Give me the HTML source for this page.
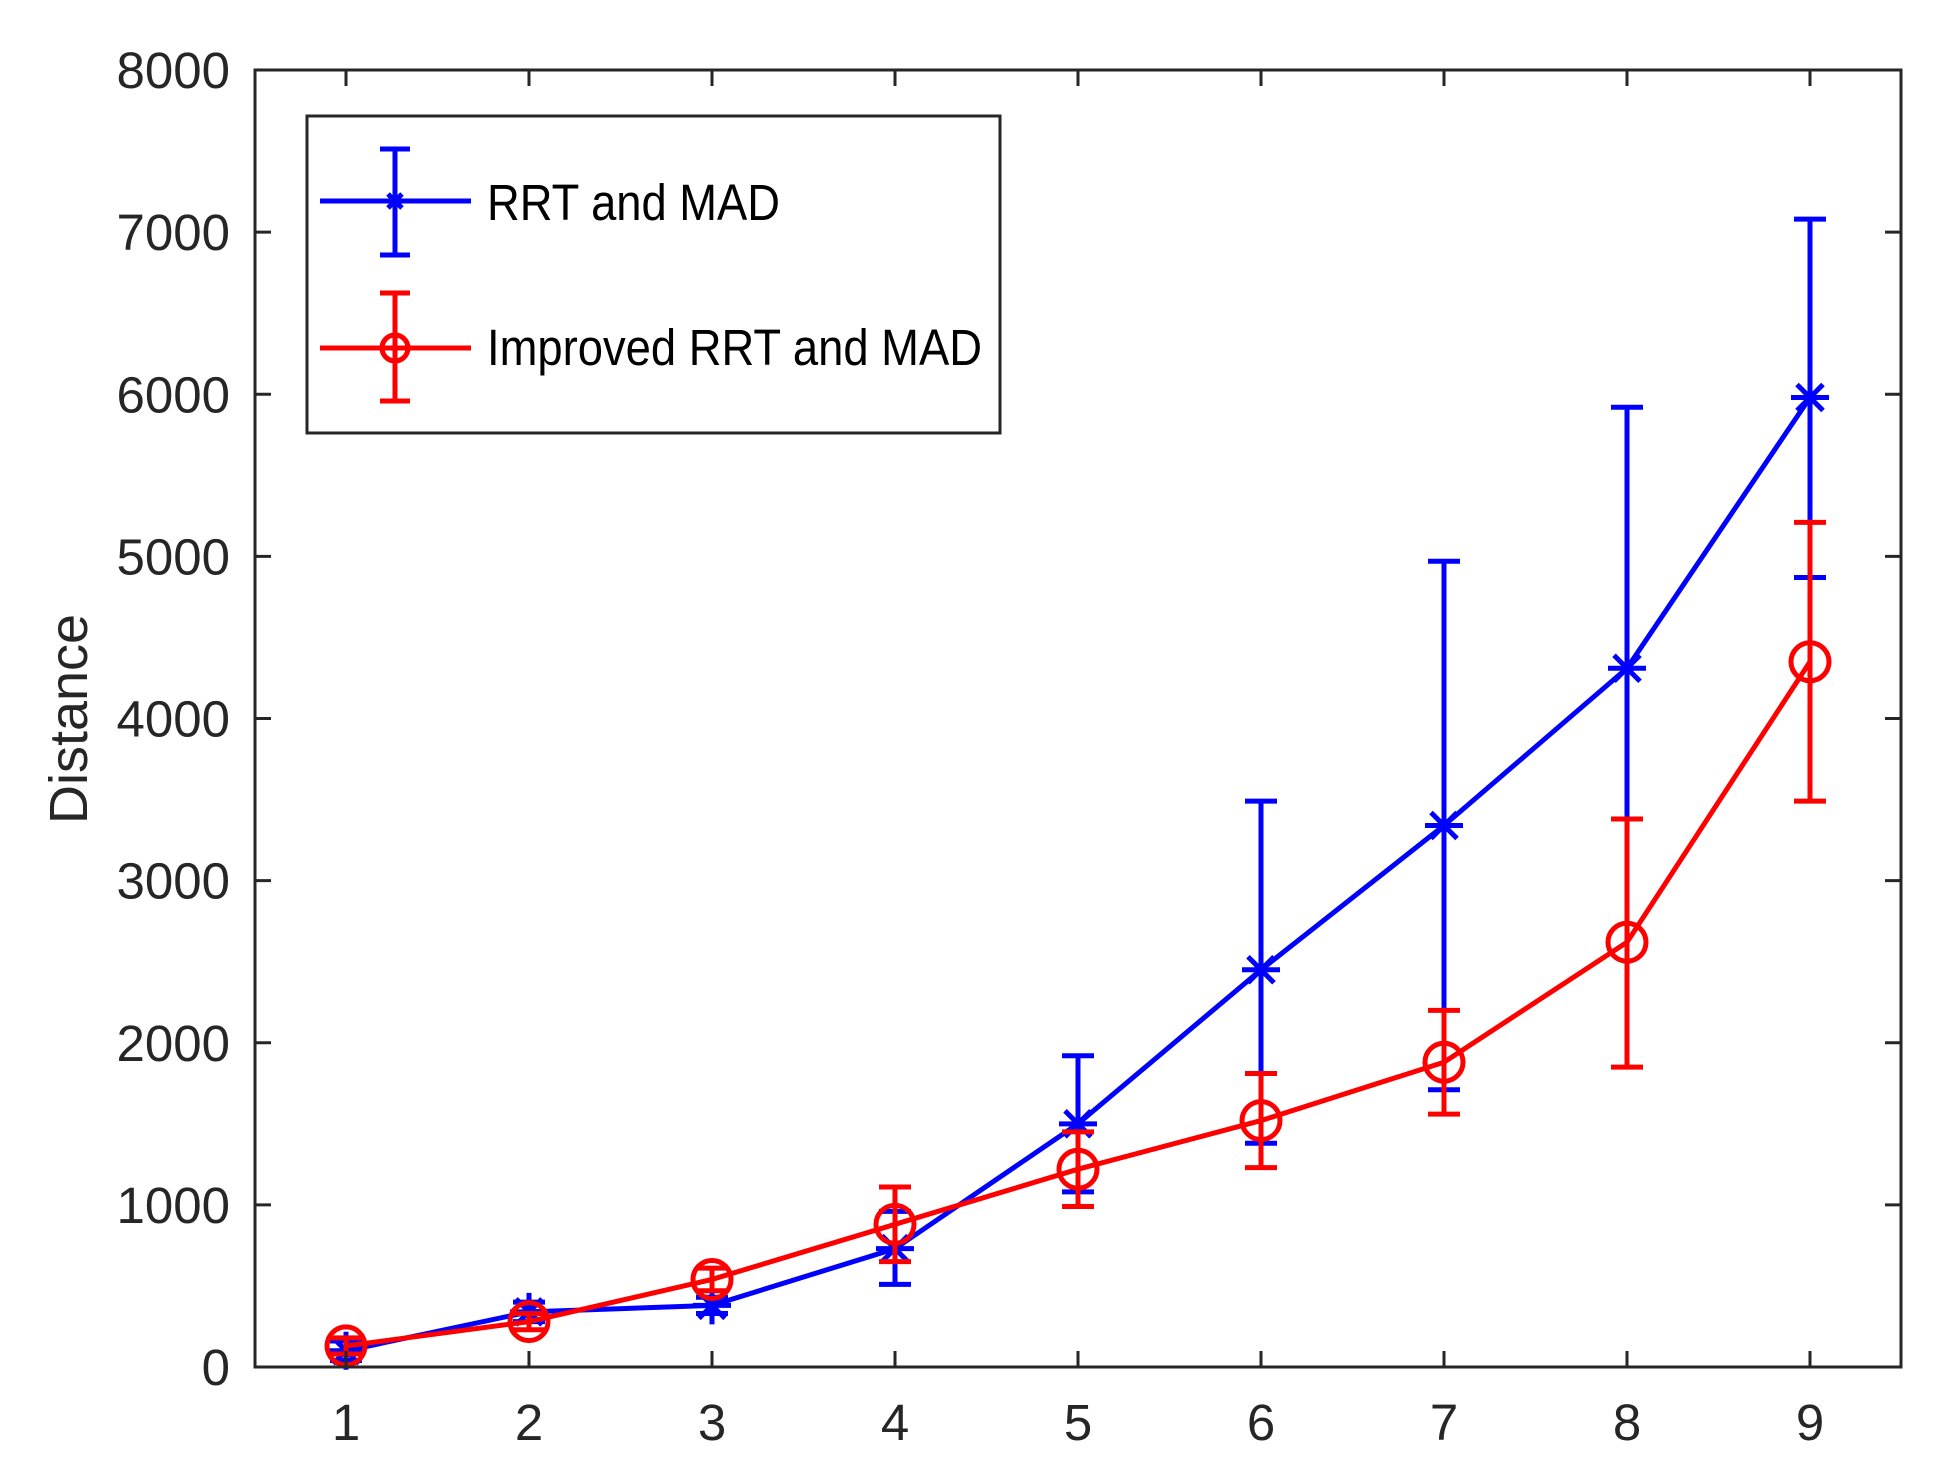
<!DOCTYPE html>
<html><head><meta charset="utf-8"><style>
html,body{margin:0;padding:0;background:#fff;}
svg{display:block;font-family:"Liberation Sans",Arial,sans-serif;}
</style></head><body>
<svg id="chart" width="1947" height="1467" viewBox="0 0 1947 1467" xmlns="http://www.w3.org/2000/svg">
<rect x="0" y="0" width="1947" height="1467" fill="#fff"/>
<g id="marks"></g>
<rect x="255" y="70" width="1646" height="1297" fill="none" stroke="#262626" stroke-width="3"/>
<g id="ticks"></g>
<text x="87" y="719" transform="rotate(-90 87 719)" text-anchor="middle" font-size="54" fill="#262626">Distance</text>
<g>
<rect x="307" y="116" width="693" height="317" fill="#fff" stroke="#262626" stroke-width="3"/>
<g>
<line x1="320" y1="201" x2="471" y2="201" stroke="#0000ff" stroke-width="5"/>
<line x1="395" y1="149" x2="395" y2="255" stroke="#0000ff" stroke-width="5"/>
<line x1="380" y1="149" x2="410" y2="149" stroke="#0000ff" stroke-width="5"/>
<line x1="380" y1="255" x2="410" y2="255" stroke="#0000ff" stroke-width="5"/>
<path d="M385 201H405M395 191V211M388 194L402 208M402 194L388 208" stroke="#0000ff" stroke-width="5"/>
<text x="487" y="220" font-size="51" fill="#000" textLength="293" lengthAdjust="spacingAndGlyphs">RRT and MAD</text>
</g>
<g>
<line x1="320" y1="348" x2="471" y2="348" stroke="#ff0000" stroke-width="5"/>
<line x1="395" y1="293" x2="395" y2="401" stroke="#ff0000" stroke-width="5"/>
<line x1="380" y1="293" x2="410" y2="293" stroke="#ff0000" stroke-width="5"/>
<line x1="380" y1="401" x2="410" y2="401" stroke="#ff0000" stroke-width="5"/>
<circle cx="395" cy="348" r="13" fill="none" stroke="#ff0000" stroke-width="5"/>
<text x="487" y="365" font-size="51" fill="#000" textLength="495" lengthAdjust="spacingAndGlyphs">Improved RRT and MAD</text>
</g>
</g>
</svg>
<script>
const categories = [1,2,3,4,5,6,7,8,9];
const yTicks = [0,1000,2000,3000,4000,5000,6000,7000,8000];
const rrtMean = [100,340,380,730,1500,2450,3340,4310,5980];
const rrtLow  = [40,280,330,510,1080,1380,1710,3380,4870];
const rrtHigh = [160,400,430,960,1920,3490,4970,5920,7080];
const impMean = [130,280,540,880,1220,1520,1880,2620,4350];
const impLow  = [80,230,470,650,990,1230,1560,1850,3490];
const impHigh = [180,330,610,1110,1450,1810,2200,3380,5210];

const NS='http://www.w3.org/2000/svg';
const X0=255,X1=1901,Y0=1367,Y1=70;
function xs(v){return 346+(v-1)*183;}
function ys(v){return Y0-(v/8000)*(Y0-Y1);}
function mk(tag,attrs,parent){const e=document.createElementNS(NS,tag);for(const k in attrs)e.setAttribute(k,attrs[k]);parent.appendChild(e);return e;}
const marks=document.getElementById('marks');
const ticks=document.getElementById('ticks');

categories.forEach(c=>{
  const x=xs(c);
  const t1=mk('line',{x1:x,y1:Y0,x2:x,y2:Y0-16,stroke:'#262626','stroke-width':3},ticks);
  
  
  const t2=mk('line',{x1:x,y1:Y1,x2:x,y2:Y1+16,stroke:'#262626','stroke-width':3},ticks);
  
  
  const tx=mk('text',{x:x,y:1440,'text-anchor':'middle','font-size':51,fill:'#262626'},ticks);
  tx.textContent=c;
  
  
});
yTicks.forEach(v=>{
  const y=ys(v);
  const t1=mk('line',{x1:X0,y1:y,x2:X0+16,y2:y,stroke:'#262626','stroke-width':3},ticks);
  
  
  const t2=mk('line',{x1:X1,y1:y,x2:X1-16,y2:y,stroke:'#262626','stroke-width':3},ticks);
  
  
  const tx=mk('text',{x:230,y:y+18,'text-anchor':'end','font-size':51,fill:'#262626'},ticks);
  tx.textContent=v;
  
  
});

function series(mean,low,high,color,name,marker){
  const g=mk('g',{},marks);
  
  
  const pts=mean.map((m,i)=>xs(categories[i])+','+ys(m)).join(' ');
  const pl=mk('polyline',{points:pts,fill:'none',stroke:color,'stroke-width':5},g);
  
  
  mean.forEach((m,i)=>{
    const x=xs(categories[i]),yl=ys(low[i]),yh=ys(high[i]),y=ys(m);
    const eb=mk('path',{d:`M${x} ${yl}V${yh}M${x-16} ${yl}H${x+16}M${x-16} ${yh}H${x+16}`,stroke:color,'stroke-width':5,fill:'none'},g);
    
    
    let p;
    if(marker==='star'){
      const r=19,d=13;
      p=mk('path',{d:`M${x-r} ${y}H${x+r}M${x} ${y-r}V${y+r}M${x-d} ${y-d}L${x+d} ${y+d}M${x+d} ${y-d}L${x-d} ${y+d}`,stroke:color,'stroke-width':5,fill:'none'},g);
    } else {
      p=mk('circle',{cx:x,cy:y,r:19,fill:'none',stroke:color,'stroke-width':5},g);
    }
    
    
  });
}
series(rrtMean,rrtLow,rrtHigh,'#0000ff','rrt','star');
series(impMean,impLow,impHigh,'#ff0000','improved-rrt','circle');
</script>
</body></html>
